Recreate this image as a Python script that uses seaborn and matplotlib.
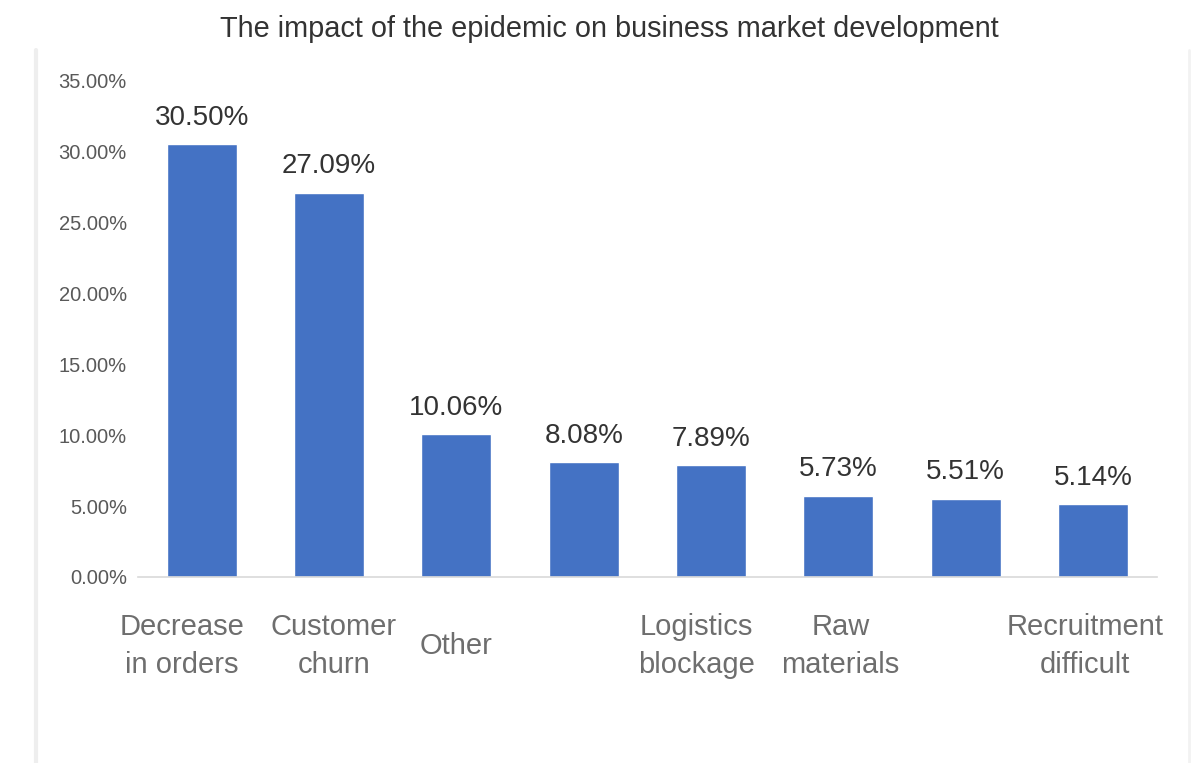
import matplotlib
matplotlib.use("Agg")
import matplotlib.pyplot as plt
import matplotlib.transforms as mtransforms
from matplotlib.lines import Line2D
from matplotlib.ticker import FuncFormatter, MultipleLocator
import seaborn as sns
import pandas as pd

# Chart data
categories = ["Decrease\nin orders", "Customer\nchurn", "Other", "",
              "Logistics\nblockage", "Raw\nmaterials", "", "Recruitment\ndifficult"]
shares = [30.50, 27.09, 10.06, 8.08, 7.89, 5.73, 5.51, 5.14]
title = "The impact of the epidemic on business market development"

sns.set_theme(style="white")
plt.rcParams["font.family"] = ["Liberation Sans", "DejaVu Sans"]

df = pd.DataFrame({"pos": list(range(len(shares))), "share": shares})

fig = plt.figure(figsize=(11.95, 7.63), dpi=100)
ax = fig.add_axes([0.1155, 0.2438, 0.8525, 0.651])

sns.barplot(data=df, x="pos", y="share", color="#4472C4", saturation=1,
            width=0.55, ax=ax)

ax.set_xlim(-0.5, len(shares) - 0.5)
ax.set_ylim(0, 35)
ax.yaxis.set_major_locator(MultipleLocator(5))
ax.yaxis.set_major_formatter(FuncFormatter(lambda v, _: f"{v:.2f}%"))
ax.set_xlabel("")
ax.set_ylabel("")

for side in ("top", "right", "left"):
    ax.spines[side].set_visible(False)
ax.spines["bottom"].set_color("#d9d9d9")
ax.spines["bottom"].set_linewidth(1.2)

ax.tick_params(axis="y", length=0, pad=8, labelsize=14.5, labelcolor="#595959")
ax.tick_params(axis="x", length=0, pad=50, labelsize=21, labelcolor="#6e6e6e")

ax.set_xticks(range(len(categories)))
ax.set_xticklabels(categories, linespacing=1.45)

# small horizontal nudges of the category labels (pixels)
nudges = [-20, 5, 0, 0, -15, 2, 0, -8]
for lab, dx in zip(ax.get_xticklabels(), nudges):
    lab.set_verticalalignment("center")
    lab.set_transform(lab.get_transform() +
                      mtransforms.ScaledTranslation(dx / 100, 0, fig.dpi_scale_trans))

# value labels above bars
for i, v in enumerate(shares):
    ax.annotate(f"{v:.2f}%", xy=(i, v), xytext=(0, 19), textcoords="offset points",
                ha="center", va="center", fontsize=20, color="#333333")

fig.text(0.51, 0.962, title, ha="center", va="center", fontsize=20.8, color="#333333")

# faint frame edges of the panel
fig.add_artist(Line2D([36 / 1195, 36 / 1195], [0, 713 / 763], transform=fig.transFigure,
                      color="#eeeeee", linewidth=3))
fig.add_artist(Line2D([1189 / 1195, 1189 / 1195], [0, 713 / 763], transform=fig.transFigure,
                      color="#f2f2f2", linewidth=2))

fig.savefig("out.png", dpi=100)
